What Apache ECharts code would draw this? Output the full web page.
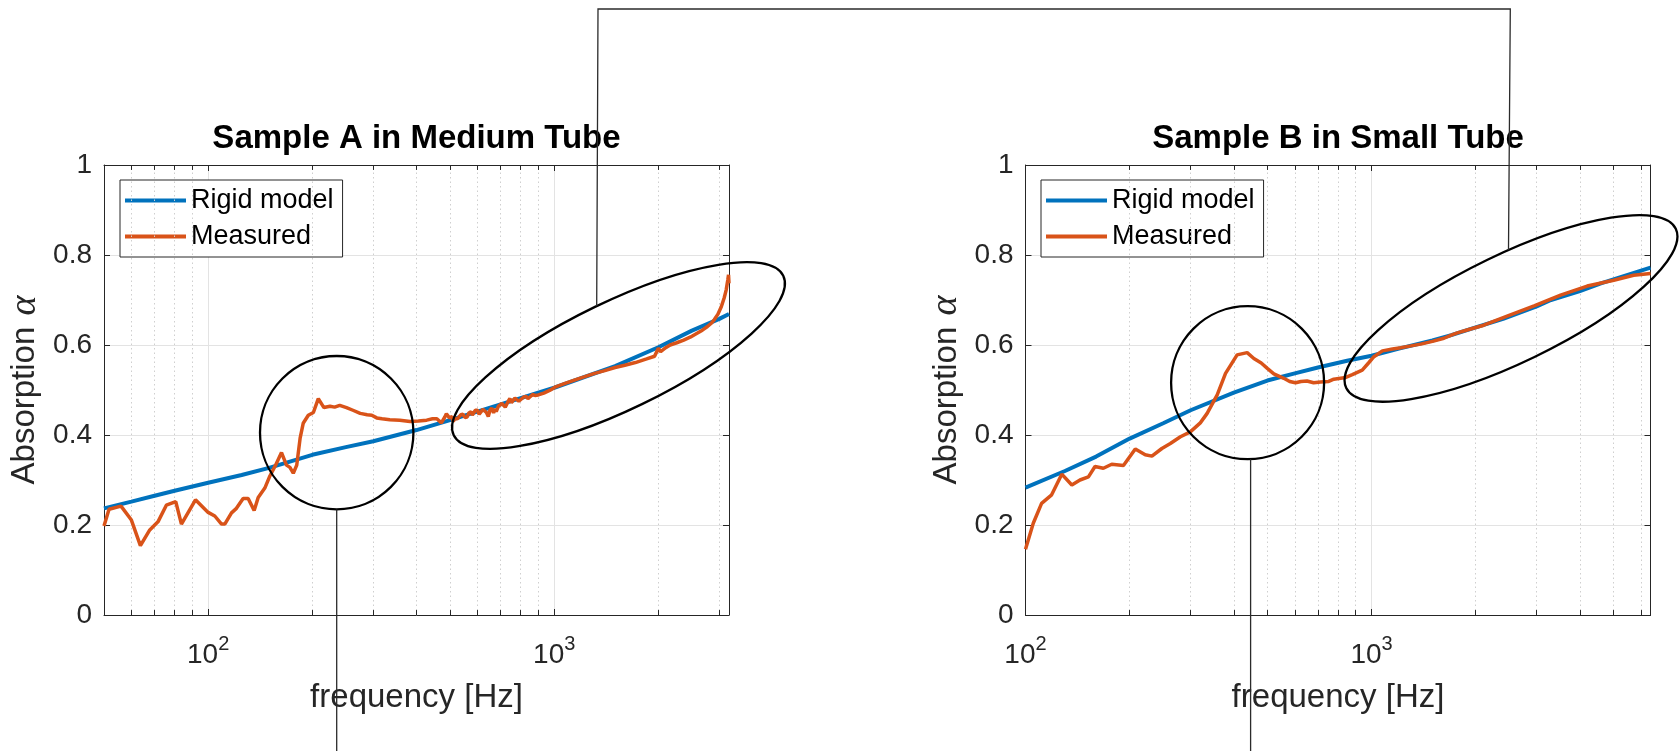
<!DOCTYPE html>
<html>
<head>
<meta charset="utf-8">
<title>Absorption coefficient: rigid model vs. measurement</title>
<script src="https://cdn.jsdelivr.net/npm/echarts@6/dist/echarts.min.js"></script>
<style>
  html, body { margin: 0; padding: 0; background: #ffffff; }
  #chart { width: 1679px; height: 751px; }
</style>
</head>
<body>
<div id="chart"></div>
<script>
// ---------------- data ----------------
const titles = ['Sample A in Medium Tube', 'Sample B in Small Tube'];
const seriesNames = ['Rigid model', 'Measured'];
const xLabel = 'frequency [Hz]';
const yLabel = 'Absorption';
const yTicks = [0, 0.2, 0.4, 0.6, 0.8, 1];
const freqRangeA = [50, 3200];
const freqRangeB = [100, 6400];
const decadeTicks = [100, 1000];
const minorFreqA = [60, 70, 80, 90, 200, 300, 400, 500, 600, 700, 800, 900, 2000, 3000];
const minorFreqB = [200, 300, 400, 500, 600, 700, 800, 900, 2000, 3000, 4000, 5000, 6000];

// Sample A, medium tube
const modelA_f = [50, 60, 70, 80, 100, 125, 150, 200, 250, 300, 400, 500, 700, 1000, 1500, 2000, 2500, 3000, 3200];
const modelA_a = [0.237, 0.252, 0.265, 0.276, 0.294, 0.311, 0.327, 0.356, 0.373, 0.386, 0.411, 0.433, 0.468, 0.505, 0.553, 0.595, 0.632, 0.658, 0.669];

const measA_f = [50, 51.7, 56, 60, 63.7, 67.8, 71.6, 75.7, 80.6, 83.7, 91.9, 100, 104.5, 109.3, 111.7, 116.8, 120.7,
  126.2, 130.5, 135.8, 139.5, 145.8, 150.8, 156.6, 162.9, 168.4, 172.3, 176.2, 180.3, 184.4, 188.2, 194.7, 201.4,
  208.1, 216, 225, 232, 240, 251, 262, 275, 288, 297, 307, 318, 335, 358, 383, 405, 428, 445, 458, 472,
  483, 488, 494, 498, 503, 507, 511, 516, 520, 525, 530, 537, 545, 552, 560, 567, 575, 580, 584, 592, 600, 607,
  615, 622, 630, 637, 645, 652, 660, 668, 675, 680, 690, 698, 706, 715, 722, 730, 738, 745, 752, 760, 770, 780,
  790, 800, 815, 830, 840, 852, 866, 880, 900,
  933, 970, 1010, 1070, 1144, 1220, 1309, 1400, 1499, 1600, 1716, 1850, 1950, 2000, 2030, 2100, 2163, 2260,
  2367, 2480, 2587, 2680, 2773, 2850, 2900, 2970, 3040, 3100, 3140, 3175, 3190, 3200];
const measA_a = [0.198, 0.235, 0.242, 0.211, 0.154, 0.189, 0.207, 0.244, 0.252, 0.202, 0.256, 0.228, 0.220, 0.202, 0.202, 0.227, 0.237,
  0.259, 0.259, 0.232, 0.261, 0.282, 0.309, 0.333, 0.361, 0.333, 0.328, 0.315, 0.333, 0.393, 0.426, 0.444, 0.450,
  0.481, 0.461, 0.464, 0.462, 0.466, 0.461, 0.455, 0.448, 0.445, 0.444, 0.438, 0.436, 0.434, 0.433, 0.430, 0.431, 0.433, 0.436, 0.436, 0.427,
  0.440, 0.447, 0.447, 0.438, 0.436, 0.441, 0.430, 0.437, 0.441, 0.436, 0.433, 0.445, 0.446, 0.439, 0.440, 0.449, 0.452, 0.444, 0.447, 0.455, 0.455, 0.446,
  0.448, 0.457, 0.458, 0.450, 0.441, 0.455, 0.460, 0.449, 0.458, 0.452, 0.464, 0.462, 0.470, 0.470, 0.462, 0.466, 0.476, 0.481, 0.472, 0.474, 0.482, 0.479,
  0.475, 0.478, 0.484, 0.486, 0.481, 0.485, 0.490, 0.488, 0.489,
  0.493, 0.499, 0.507, 0.514, 0.522, 0.529, 0.537, 0.543, 0.550, 0.555, 0.561, 0.569, 0.575, 0.593, 0.585, 0.594, 0.600, 0.605,
  0.611, 0.618, 0.626, 0.633, 0.641, 0.649, 0.656, 0.668, 0.685, 0.705, 0.722, 0.745, 0.756, 0.737];

// Sample B, small tube
const modelB_f = [100, 130, 160, 200, 250, 300, 400, 500, 600, 700, 850, 1000, 1200, 1500, 1700, 2000, 2400, 3000, 3300, 4000, 4600, 5500, 6400];
const modelB_a = [0.283, 0.320, 0.352, 0.392, 0.426, 0.455, 0.494, 0.521, 0.537, 0.550, 0.565, 0.576, 0.592, 0.610, 0.622, 0.639, 0.658, 0.686, 0.700, 0.720, 0.737, 0.756, 0.772];

const measB_f = [100, 105.3, 111.3, 119, 127.3, 136.1, 143.7, 152, 158.8, 167.9, 177.5, 191.9, 207.6, 221.8, 231.9, 247.8,
  262.2, 280.4, 299.4, 320, 334.9, 358.1, 378.5, 408.8, 437.1, 457, 480, 499.8, 522, 557.8, 580, 603, 625, 651, 680,
  712.6, 752, 778, 842.6, 880, 940, 980, 1016, 1075, 1150, 1215, 1300, 1387, 1500, 1619, 1700, 1770, 1900, 2110,
  2465, 2950, 3518, 4200, 5012, 5720, 6400];
const measB_a = [0.146, 0.204, 0.248, 0.267, 0.313, 0.289, 0.300, 0.307, 0.330, 0.326, 0.335, 0.332, 0.369, 0.356, 0.353, 0.370,
  0.381, 0.396, 0.407, 0.427, 0.448, 0.489, 0.537, 0.578, 0.583, 0.570, 0.560, 0.548, 0.536, 0.526, 0.519, 0.516, 0.519, 0.520, 0.516,
  0.518, 0.519, 0.524, 0.528, 0.534, 0.544, 0.560, 0.574, 0.587, 0.591, 0.594, 0.598, 0.602, 0.608, 0.615, 0.622, 0.627, 0.634, 0.644,
  0.664, 0.687, 0.711, 0.731, 0.744, 0.755, 0.759];

// ---------------- styling ----------------
const FONT = '"Liberation Sans", Arial, Helvetica, sans-serif';
const AXIS_COLOR = '#262626';
const BLUE = '#0072BD';
const ORANGE = '#D95319';

const pairs = (xs, ys) => xs.map((x, i) => [x, ys[i]]);

const grids = [
  { left: 104, top: 165, width: 625, height: 450 },
  { left: 1025.5, top: 165, width: 625, height: 450 }
];

// only the decades get a label, written as 10 with a raised exponent
function decadeLabel(v) {
  const p = Math.round(Math.log10(v));
  if (!decadeTicks.some(t => Math.abs(t - v) < 1e-6 * t)) return '';
  return '{b|10}{s|' + p + '}';
}

function bottomAxis(gi, range) {
  return {
    gridIndex: gi, type: 'log', logBase: 10, min: range[0], max: range[1], position: 'bottom',
    axisLine: { show: true, onZero: false, lineStyle: { color: AXIS_COLOR, width: 1 } },
    axisTick: { show: true, inside: true, length: 6, lineStyle: { color: AXIS_COLOR, width: 1 } },
    axisLabel: {
      show: true, margin: 19, showMinLabel: true, showMaxLabel: true,
      formatter: decadeLabel,
      rich: {
        b: { fontSize: 28, color: AXIS_COLOR, fontFamily: FONT, verticalAlign: 'bottom', padding: [7, 0, 0, 0] },
        s: { fontSize: 20, color: AXIS_COLOR, fontFamily: FONT, verticalAlign: 'top' }
      }
    },
    splitLine: { show: true, lineStyle: { color: '#e3e3e3', width: 1 } },
    name: xLabel, nameLocation: 'middle', nameGap: 66,
    nameTextStyle: { fontSize: 33, color: AXIS_COLOR, fontFamily: FONT }
  };
}
function topAxis(gi, range) {
  return {
    gridIndex: gi, type: 'log', logBase: 10, min: range[0], max: range[1], position: 'top',
    axisLine: { show: true, onZero: false, lineStyle: { color: AXIS_COLOR, width: 1 } },
    axisTick: { show: true, inside: true, length: 6, lineStyle: { color: AXIS_COLOR, width: 1 } },
    axisLabel: { show: false }, splitLine: { show: false }
  };
}
function leftAxis(gi) {
  return {
    gridIndex: gi, type: 'value', min: yTicks[0], max: yTicks[yTicks.length - 1], interval: 0.2, position: 'left',
    axisLine: { show: true, onZero: false, lineStyle: { color: AXIS_COLOR, width: 1 } },
    axisTick: { show: true, inside: true, length: 6, lineStyle: { color: AXIS_COLOR, width: 1 } },
    axisLabel: { show: true, margin: 12, fontSize: 28, color: AXIS_COLOR, fontFamily: FONT },
    splitLine: { show: true, lineStyle: { color: '#e3e3e3', width: 1 } },
    name: yLabel + ' {a|α}', nameLocation: 'middle', nameRotate: 90, nameGap: 60,
    nameTextStyle: {
      fontSize: 33, color: AXIS_COLOR, fontFamily: FONT,
      rich: { a: { fontSize: 38, color: AXIS_COLOR, fontFamily: '"Liberation Serif", "DejaVu Serif", serif', fontStyle: 'italic', padding: [0, 0, 0, 2] } }
    }
  };
}
function rightAxis(gi) {
  return {
    gridIndex: gi, type: 'value', min: yTicks[0], max: yTicks[yTicks.length - 1], interval: 0.2, position: 'right',
    axisLine: { show: true, onZero: false, lineStyle: { color: AXIS_COLOR, width: 1 } },
    axisTick: { show: true, inside: true, length: 6, lineStyle: { color: AXIS_COLOR, width: 1 } },
    axisLabel: { show: false }, splitLine: { show: false }
  };
}

// dotted minor grid (2..9 x 10^n) and the short minor ticks on the box edges
function minorGridSeries(gi, freqs) {
  return {
    type: 'line', xAxisIndex: gi * 2, yAxisIndex: gi * 2, data: [], z: 1, silent: true,
    markLine: {
      silent: true, symbol: ['none', 'none'], animation: false, label: { show: false },
      lineStyle: { color: '#cfcfcf', type: [1.5, 3], width: 1 },
      emphasis: { disabled: true },
      data: freqs.map(f => ({ xAxis: f }))
    }
  };
}
function minorTickSeries(gi, freqs) {
  const segs = [];
  freqs.forEach(f => {
    segs.push([{ coord: [f, 0] }, { coord: [f, 0.011] }]);
    segs.push([{ coord: [f, 1] }, { coord: [f, 0.989] }]);
  });
  return {
    type: 'line', xAxisIndex: gi * 2, yAxisIndex: gi * 2, data: [], z: 2, silent: true,
    markLine: {
      silent: true, symbol: ['none', 'none'], animation: false, label: { show: false },
      lineStyle: { color: AXIS_COLOR, type: 'solid', width: 1 },
      emphasis: { disabled: true },
      data: segs
    }
  };
}

function curve(name, gi, xs, ys, color, width, z) {
  return {
    name: name, type: 'line', xAxisIndex: gi * 2, yAxisIndex: gi * 2,
    data: pairs(xs, ys), showSymbol: false, symbol: 'none', z: z,
    lineStyle: { color: color, width: width }, itemStyle: { color: color },
    emphasis: { disabled: true }
  };
}

function legendAt(left) {
  return {
    data: seriesNames, orient: 'vertical', left: left, top: 180,
    icon: 'rect', itemWidth: 61, itemHeight: 4, itemGap: 9,
    padding: [7, 9, 7, 5], backgroundColor: '#ffffff',
    borderColor: AXIS_COLOR, borderWidth: 1, borderRadius: 0,
    selectedMode: false,
    textStyle: { fontSize: 27, color: '#000000', fontFamily: FONT }
  };
}

// callout shapes drawn on top of the two panels
const outline = { fill: 'none', stroke: '#000000', lineWidth: 2.3 };
const leader = { fill: 'none', stroke: '#2b2b2b', lineWidth: 1.3 };
const tilt = 25.8 * Math.PI / 180;

const option = {
  animation: false,
  backgroundColor: '#ffffff',
  title: [
    { text: titles[0], left: 416.5, top: 122, textAlign: 'center', padding: 0,
      textStyle: { fontSize: 33, fontWeight: 'bold', color: '#000000', fontFamily: FONT } },
    { text: titles[1], left: 1338, top: 122, textAlign: 'center', padding: 0,
      textStyle: { fontSize: 33, fontWeight: 'bold', color: '#000000', fontFamily: FONT } }
  ],
  legend: [legendAt(120), legendAt(1041)],
  grid: grids,
  xAxis: [bottomAxis(0, freqRangeA), topAxis(0, freqRangeA), bottomAxis(1, freqRangeB), topAxis(1, freqRangeB)],
  yAxis: [leftAxis(0), rightAxis(0), leftAxis(1), rightAxis(1)],
  series: [
    minorGridSeries(0, minorFreqA), minorTickSeries(0, minorFreqA),
    minorGridSeries(1, minorFreqB), minorTickSeries(1, minorFreqB),
    curve(seriesNames[0], 0, modelA_f, modelA_a, BLUE, 4, 5),
    curve(seriesNames[1], 0, measA_f, measA_a, ORANGE, 3.5, 6),
    curve(seriesNames[0], 1, modelB_f, modelB_a, BLUE, 4, 5),
    curve(seriesNames[1], 1, measB_f, measB_a, ORANGE, 3.5, 6)
  ],
  graphic: [
    { type: 'circle', silent: true, z: 100, shape: { cx: 336.7, cy: 432.7, r: 76.7 }, style: outline },
    { type: 'circle', silent: true, z: 100, shape: { cx: 1247.6, cy: 382.7, r: 76.5 }, style: outline },
    { type: 'group', silent: true, x: 618.5, y: 355.5, rotation: tilt, z: 100,
      children: [{ type: 'ellipse', shape: { cx: 0, cy: 0, rx: 183, ry: 54 }, style: outline, z: 100 }] },
    { type: 'group', silent: true, x: 1511, y: 308.4, rotation: tilt, z: 100,
      children: [{ type: 'ellipse', shape: { cx: 0, cy: 0, rx: 183, ry: 54 }, style: outline, z: 100 }] },
    { type: 'line', silent: true, z: 100, shape: { x1: 336.7, y1: 509.4, x2: 336.7, y2: 751 }, style: leader },
    { type: 'line', silent: true, z: 100, shape: { x1: 1250.6, y1: 459.2, x2: 1250.6, y2: 751 }, style: leader },
    { type: 'polyline', silent: true, z: 100,
      shape: { points: [[596.7, 306], [598, 9], [1510.3, 9], [1508.5, 250]] }, style: leader }
  ]
};

const chart = echarts.init(document.getElementById('chart'), null, { renderer: 'canvas' });
chart.setOption(option);
</script>
</body>
</html>
